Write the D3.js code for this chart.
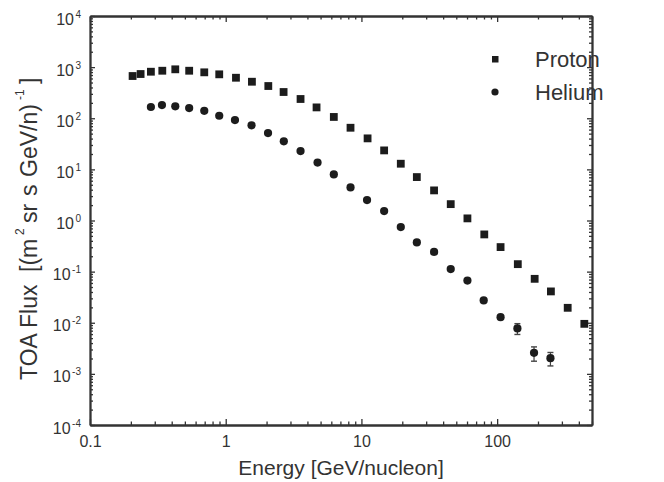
<!DOCTYPE html>
<html>
<head>
<meta charset="utf-8">
<script src="https://cdn.jsdelivr.net/npm/d3@7"></script>
<style>
  html, body { margin: 0; padding: 0; background: #ffffff; }
  svg { display: block; }
  text { font-family: "Liberation Sans", Arial, Helvetica, sans-serif; fill: #333333; }
</style>
</head>
<body>
<div id="chart"></div>
<script>
// ---- data ----
const protonEnergy = [0.206, 0.236, 0.281, 0.341, 0.425, 0.538, 0.695, 0.896, 1.19, 1.56, 2.06, 2.67, 3.56, 4.67, 6.26, 8.31, 11.1, 14.7, 19.5, 25.6, 34.3, 45.5, 60.4, 80.4, 106, 142, 189, 249, 331, 439];
const protonFlux   = [670, 733, 813, 850, 906, 850, 791, 723, 620, 518, 427, 326, 238, 163, 106, 65.2, 40.4, 23.5, 12.9, 7.07, 3.88, 2.09, 1.10, 0.534, 0.302, 0.140, 0.0723, 0.041, 0.0196, 0.00952];

const heliumEnergy = [0.281, 0.339, 0.425, 0.538, 0.695, 0.896, 1.17, 1.55, 2.05, 2.68, 3.56, 4.75, 6.26, 8.31, 11.0, 14.7, 19.5, 25.6, 34.3, 45.5, 60.4, 79.6, 106, 141, 187, 247];
const heliumFlux   = [166, 181, 171, 158, 140, 112, 92.2, 72.6, 51.3, 35.3, 22.8, 13.6, 7.98, 4.44, 2.51, 1.53, 0.743, 0.373, 0.243, 0.112, 0.0667, 0.0273, 0.01287, 0.00773, 0.00258, 0.00203];

const heliumErrEnergy = [141, 187, 247];
const heliumErrLow    = [0.0059, 0.00177, 0.00143];
const heliumErrHigh   = [0.0096, 0.00337, 0.00262];

const xTickValues = [0.1, 1, 10, 100];
const xTickLabels = ["0.1", "1", "10", "100"];
const yTickExponents = [-4, -3, -2, -1, 0, 1, 2, 3, 4];

const seriesNames = ["Proton", "Helium"];
const xTitle = "Energy [GeV/nucleon]";

// ---- layout ----
const W = 664, H = 482;
const pLeft = 90, pRight = 592, pTop = 16, pBottom = 425;
const ink = "#333333";
const markInk = "#1c1c1c";

const svg = d3.select("#chart").append("svg").attr("width", W).attr("height", H);
svg.append("rect").attr("width", W).attr("height", H).attr("fill", "#ffffff");

const x = d3.scaleLog().domain([0.1, 500]).range([pLeft, pRight]);
const y = d3.scaleLog().domain([1e-4, 1e4]).range([pBottom, pTop]);

const isPow10 = v => Math.abs(Math.log10(v) - Math.round(Math.log10(v))) < 1e-9;
const xMinor = x.ticks().filter(v => !isPow10(v));
const yMinor = y.ticks().filter(v => !isPow10(v));
const yMajor = yTickExponents.map(e => Math.pow(10, e));

function styleAxis(g) {
  g.select(".domain").attr("stroke", ink).attr("stroke-width", 1.8);
  g.selectAll(".tick line").attr("stroke", ink).attr("stroke-width", 1.3);
}

// minor ticks
svg.append("g").attr("transform", `translate(0,${pBottom})`)
  .call(d3.axisBottom(x).tickValues(xMinor).tickSize(-3.5).tickSizeOuter(0).tickFormat(""))
  .call(styleAxis);
svg.append("g").attr("transform", `translate(0,${pTop})`)
  .call(d3.axisTop(x).tickValues(xMinor).tickSize(-3.5).tickSizeOuter(0).tickFormat(""))
  .call(styleAxis);
svg.append("g").attr("transform", `translate(${pLeft},0)`)
  .call(d3.axisLeft(y).tickValues(yMinor).tickSize(-3).tickSizeOuter(0).tickFormat(""))
  .call(styleAxis);
svg.append("g").attr("transform", `translate(${pRight},0)`)
  .call(d3.axisRight(y).tickValues(yMinor).tickSize(-3).tickSizeOuter(0).tickFormat(""))
  .call(styleAxis);

// major ticks
const xAxisG = svg.append("g").attr("transform", `translate(0,${pBottom})`)
  .call(d3.axisBottom(x).tickValues(xTickValues).tickSize(-6).tickSizeOuter(0).tickPadding(11)
    .tickFormat((d, i) => xTickLabels[i]))
  .call(styleAxis);
xAxisG.selectAll(".tick text").attr("font-size", 16).attr("fill", ink)
  .attr("font-family", "'Liberation Sans', Arial, sans-serif");

svg.append("g").attr("transform", `translate(0,${pTop})`)
  .call(d3.axisTop(x).tickValues(xTickValues).tickSize(-6).tickSizeOuter(0).tickFormat(""))
  .call(styleAxis);

const yAxisG = svg.append("g").attr("transform", `translate(${pLeft},0)`)
  .call(d3.axisLeft(y).tickValues(yMajor).tickSize(-5).tickSizeOuter(0).tickPadding(9).tickFormat(() => "x"))
  .call(styleAxis);
yAxisG.selectAll(".tick text").each(function(d, i) {
  const t = d3.select(this);
  t.text(null).attr("font-size", 16).attr("fill", ink).attr("dy", "0.5em")
    .attr("font-family", "'Liberation Sans', Arial, sans-serif");
  t.append("tspan").text("10");
  t.append("tspan").attr("font-size", 10).attr("dy", -7).attr("dx", 1.5).text(String(yTickExponents[i]));
});

svg.append("g").attr("transform", `translate(${pRight},0)`)
  .call(d3.axisRight(y).tickValues(yMajor).tickSize(-5).tickSizeOuter(0).tickFormat(""))
  .call(styleAxis);

// ---- data marks ----
const plot = svg.append("g");
const sq = 7.8;
plot.selectAll("rect.proton").data(protonEnergy).join("rect")
  .attr("class", "proton")
  .attr("x", (d) => x(d) - sq / 2)
  .attr("y", (d, i) => y(protonFlux[i]) - sq / 2)
  .attr("width", sq).attr("height", sq)
  .attr("fill", markInk);

// error bars for helium
const cap = 3;
const eb = plot.selectAll("g.err").data(heliumErrEnergy).join("g").attr("class", "err");
eb.append("line")
  .attr("x1", d => x(d)).attr("x2", d => x(d))
  .attr("y1", (d, i) => y(heliumErrLow[i])).attr("y2", (d, i) => y(heliumErrHigh[i]))
  .attr("stroke", "#444").attr("stroke-width", 1.2);
eb.append("line")
  .attr("x1", d => x(d) - cap).attr("x2", d => x(d) + cap)
  .attr("y1", (d, i) => y(heliumErrLow[i])).attr("y2", (d, i) => y(heliumErrLow[i]))
  .attr("stroke", "#444").attr("stroke-width", 1.4);
eb.append("line")
  .attr("x1", d => x(d) - cap).attr("x2", d => x(d) + cap)
  .attr("y1", (d, i) => y(heliumErrHigh[i])).attr("y2", (d, i) => y(heliumErrHigh[i]))
  .attr("stroke", "#444").attr("stroke-width", 1.4);

plot.selectAll("circle.helium").data(heliumEnergy).join("circle")
  .attr("class", "helium")
  .attr("cx", d => x(d))
  .attr("cy", (d, i) => y(heliumFlux[i]))
  .attr("r", 4.1)
  .attr("fill", markInk);

// ---- legend ----
const leg = svg.append("g");
leg.append("rect").attr("x", 492).attr("y", 56).attr("width", 6.5).attr("height", 6.5).attr("fill", markInk);
leg.append("text").attr("x", 535).attr("y", 67).attr("font-size", 22).attr("fill", ink).text(seriesNames[0]);
leg.append("circle").attr("cx", 495).attr("cy", 92).attr("r", 3.6).attr("fill", markInk);
leg.append("text").attr("x", 535).attr("y", 100).attr("font-size", 22).attr("fill", ink).text(seriesNames[1]);

// ---- axis titles ----
svg.append("text")
  .attr("x", (pLeft + pRight) / 2).attr("y", 475)
  .attr("text-anchor", "middle").attr("font-size", 21).attr("fill", ink)
  .text(xTitle);

const yt = svg.append("text")
  .attr("transform", "translate(37,380) rotate(-90)")
  .attr("font-size", 23).attr("fill", ink);
yt.append("tspan").attr("x", 0).text("TOA Flux");
yt.append("tspan").attr("x", 108).text("[(m");
yt.append("tspan").attr("x", 145).attr("dy", -13).attr("font-size", 12).text("2");
yt.append("tspan").attr("x", 157).attr("dy", 13).text("sr");
yt.append("tspan").attr("x", 184).text("s");
yt.append("tspan").attr("x", 203).text("GeV/n)");
yt.append("tspan").attr("x", 280).attr("dy", -13).attr("font-size", 12).text("-1");
yt.append("tspan").attr("x", 296).attr("dy", 13).text("]");
</script>
</body>
</html>
